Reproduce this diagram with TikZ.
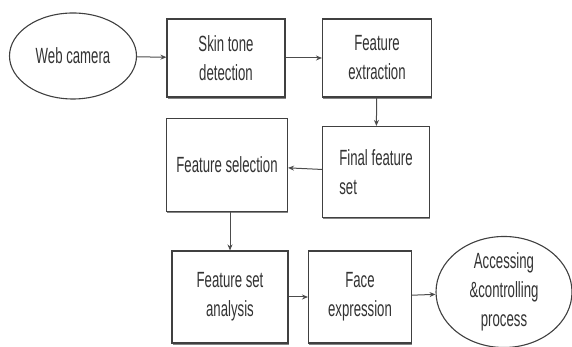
\documentclass[tikz,border=0pt]{standalone}
\usepackage{fontspec}
\setmainfont[FakeStretch=0.6]{Liberation Sans}
\usepackage{tikz}
\usetikzlibrary{positioning,shapes.geometric,shadows,arrows.meta}

\begin{document}
\begin{tikzpicture}[x=1pt,y=1pt,
    blk/.style={rectangle,draw=black!75,line width=1.1pt,fill=white,text=black!80,
      drop shadow={shadow xshift=0.5pt,shadow yshift=-2pt,fill=black!60,opacity=0.8}},
    oval/.style={ellipse,draw=black!75,line width=1.1pt,fill=white,text=black!80,align=center,inner sep=0pt},
    flow/.style={draw=black!70,line width=1pt,-{Stealth[length=6pt,width=5pt]}},
    font=\fontsize{22}{29}\selectfont]
  \useasboundingbox (0,0) rectangle (572,347);
      \node[oval,minimum width=127pt,minimum height=86pt](cam) at (73,291){Web camera};
      \node[blk,minimum width=118pt,minimum height=78pt,align=center](skin) at (226,289){Skin tone\\detection};
      \node[blk,minimum width=109pt,minimum height=78pt,align=center](extr) at (377,289){Feature\\extraction};
      \node[blk,minimum width=107pt,minimum height=91pt,align=left](final) at (376,175){Final feature\\set};
      \node[blk,minimum width=121pt,minimum height=93pt](sel) at (227,182){Feature selection};
      \node[blk,minimum width=116pt,minimum height=92pt,align=center](anal) at (230,50){Feature set\\analysis};
      \node[blk,minimum width=103pt,minimum height=92pt,align=center](face) at (360,50){Face\\expression};
      \node[oval,minimum width=136pt,minimum height=104pt](acc) at (504,55){Accessing\\\&controlling\\process};
      % connectors
      \draw[flow] (cam) -- (skin);
      \draw[flow] (skin) -- (extr);
      \draw[flow] (extr) -- (final);
      \draw[flow] (final) -- (sel);
      \draw[flow] (sel.south) ++(3,0) coordinate (s1) -- (s1 |- anal.north);
      \draw[flow] (anal) -- (face);
      \draw[flow] (face) -- (acc);
\end{tikzpicture}
\end{document}
